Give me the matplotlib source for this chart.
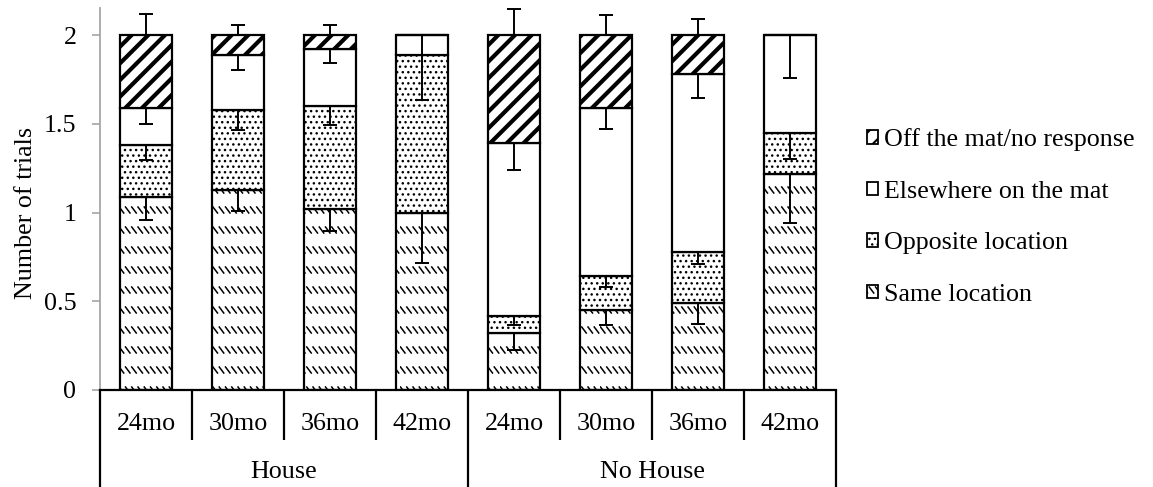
import numpy as np
import matplotlib
matplotlib.use("Agg")
import matplotlib.pyplot as plt
import matplotlib.hatch as mhatch
from matplotlib.path import Path
import matplotlib.transforms as mtrans

# ---------------- data ----------------
groups = ["House", "No House"]
ages = ["24mo", "30mo", "36mo", "42mo"]
tick_labels = ages + ages

same_loc = [1.09, 1.13, 1.02, 1.00, 0.32, 0.45, 0.49, 1.22]
opposite = [0.29, 0.45, 0.58, 0.89, 0.10, 0.19, 0.29, 0.23]
elsewhere = [0.21, 0.31, 0.32, 0.11, 0.97, 0.95, 1.00, 0.55]
off_mat = [0.41, 0.11, 0.08, 0.00, 0.61, 0.41, 0.22, 0.00]

same_err = [0.133, 0.120, 0.126, 0.286, 0.094, 0.084, 0.117, 0.276]
opposite_err = [0.081, 0.113, 0.107, 0.253, 0.056, 0.059, 0.071, 0.150]
elsewhere_err = [0.092, 0.084, 0.079, 0.110, 0.150, 0.116, 0.133, 0.242]
off_err = [0.122, 0.058, 0.058, 0.000, 0.147, 0.113, 0.090, 0.000]

series_names = ["Same location", "Opposite location",
                "Elsewhere on the mat", "Off the mat/no response"]


# ---------------- custom hatch: rows of short backslash dashes ----------------
class DashRows(mhatch.HatchPatternBase):
    def __init__(self, hatch, density):
        on = hatch.count('O') > 0
        self.rows = 5 if on else 0
        self.cols = 16
        self.num_lines = self.rows * self.cols
        self.num_vertices = self.num_lines * 2

    def set_vertices_and_codes(self, vertices, codes):
        w, h = 0.045, 0.06
        k = 0
        for i in range(self.rows):
            y0 = (i + 0.5) / self.rows
            for j in range(self.cols):
                x0 = j / self.cols + 0.005
                vertices[k] = (x0, y0 + h / 2)
                vertices[k + 1] = (x0 + w, y0 - h / 2)
                codes[k] = Path.MOVETO
                codes[k + 1] = Path.LINETO
                k += 2


mhatch._hatch_types = [t for t in mhatch._hatch_types
                       if t is not mhatch.LargeCircles] + [DashRows]

plt.rcParams['font.family'] = ['Liberation Serif', 'DejaVu Serif']
plt.rcParams['hatch.color'] = 'black'

W, H = 1153, 487
fig = plt.figure(figsize=(W / 100, H / 100), dpi=100)
ax = fig.add_axes([100 / W, (H - 390) / H, 736 / W, (390 - 8.3) / H])

FS = 18.7
x = np.arange(len(tick_labels))
bw = 0.555

layers = [
    (same_loc, same_err, 'OO', 1.1, 'down'),
    (opposite, opposite_err, '...', 1.0, 'down'),
    (elsewhere, elsewhere_err, '', 1.0, 'down'),
    (off_mat, off_err, '//', 3.0, 'up'),
]

bottom = np.zeros(len(x))
handles = []
for (vals, errs, hatch, hlw, direction), name in zip(layers, series_names):
    vals = np.asarray(vals)
    bars = ax.bar(x, vals, bw, bottom=bottom, color='white', edgecolor='black',
                  linewidth=1.6, hatch=hatch, label=name, zorder=2)
    for b in bars:
        if hasattr(b, 'set_hatch_linewidth'):
            b.set_hatch_linewidth(hlw)
    tops = bottom + vals
    errs = np.asarray(errs)
    if direction == 'down':
        yerr = [errs, np.zeros_like(errs)]
    else:
        yerr = [np.zeros_like(errs), errs]
    ax.errorbar(x, tops, yerr=yerr, fmt='none', ecolor='black',
                elinewidth=1.4, capsize=4.8, capthick=1.4, zorder=4)
    handles.append((bars, name, hatch, hlw))
    bottom = tops

ax.set_xlim(-0.5, len(x) - 0.5)
ax.set_ylim(0, 2.152)
ax.set_yticks([0, 0.5, 1, 1.5, 2])
ax.set_yticklabels(["0", "0.5", "1", "1.5", "2"])
ax.tick_params(axis='y', direction='out', length=6, width=1.2, color='#a6a6a6',
               labelsize=FS, pad=11)
ax.set_xticks([])
for s in ['top', 'right']:
    ax.spines[s].set_visible(False)
ax.spines['left'].set_color('#a6a6a6')
ax.spines['left'].set_linewidth(1.3)
ax.spines['bottom'].set_color('black')
ax.spines['bottom'].set_linewidth(1.6)
ax.spines['bottom'].set_zorder(5)

ax.set_ylabel("Number of trials", fontsize=FS)
ax.yaxis.set_label_coords(-0.086, 0.465)

# category axis with nested labels
trans = mtrans.blended_transform_factory(ax.transData, ax.transAxes)
ah = 390 - 8.3
y_short = -(440 - 390) / ah
y_long = -(487 - 390) / ah
for i in range(len(x) + 1):
    xb = i - 0.5
    yend = y_long if i % 4 == 0 else y_short
    ax.plot([xb, xb], [0, yend], transform=trans, color='black', lw=1.6,
            clip_on=False, solid_capstyle='butt')
for i, lab in enumerate(tick_labels):
    ax.text(i, -(424 - 390) / ah, lab, transform=trans, ha='center',
            va='center', fontsize=FS)
for g, name in enumerate(groups):
    ax.text(g * 4 + 1.5, -(471.5 - 390) / ah, name, transform=trans,
            ha='center', va='center', fontsize=FS)

# legend
leg_handles = [h[0] for h in handles[::-1]]
leg = fig.legend(leg_handles, [h[1] for h in handles[::-1]],
                 loc='center left', bbox_to_anchor=(867 / W, 1 - 217 / H),
                 frameon=False, fontsize=FS, handlelength=0.42,
                 handleheight=0.42, handletextpad=0.25, labelspacing=1.14,
                 borderpad=0, borderaxespad=0)
for p, (bars, name, hatch, hlw) in zip(leg.get_patches(), handles[::-1]):
    p.set_linewidth(1.3)
    if hasattr(p, 'set_hatch_linewidth'):
        p.set_hatch_linewidth(min(hlw, 1.5))

fig.savefig("out.png", dpi=100)
